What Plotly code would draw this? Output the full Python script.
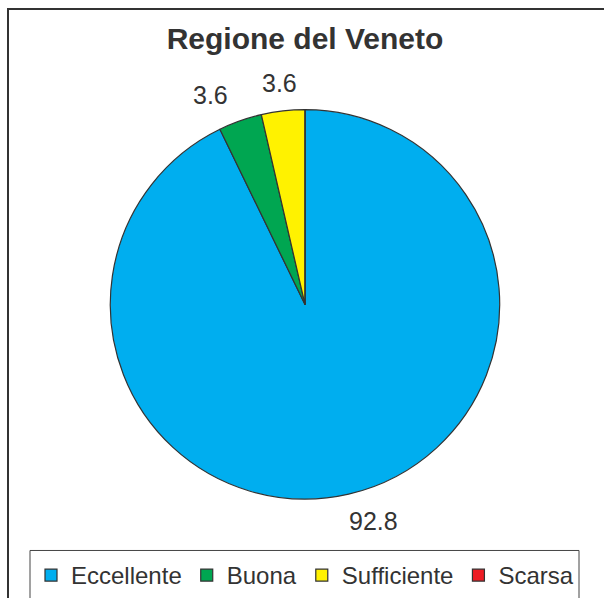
import math
import plotly.graph_objects as go

categories = ["Eccellente", "Buona", "Sufficiente", "Scarsa"]
values = [92.8, 3.6, 3.6, 0.0]
colors = ["#00AEEF", "#00A651", "#FFF200", "#ED1C24"]

W, H = 604, 598
cx, cy, r = 305, 308, 197
FONT = "Liberation Sans, Arial, sans-serif"
TXT = "#333333"

fig = go.Figure(go.Pie(
    labels=categories,
    values=values,
    sort=False,
    direction="clockwise",
    rotation=0,
    marker=dict(colors=colors, line=dict(color="#333333", width=1.2)),
    textinfo="none",
    hoverinfo="label+value",
    showlegend=True,
    domain=dict(x=[(cx - r) / W, (cx + r) / W],
                y=[1 - (cy + r) / H, 1 - (cy - r) / H]),
))

# outside value labels placed at each slice's mid-angle
annotations = []
total = sum(values)
cum = 0.0
R_lab = 225
for v in values:
    mid = (cum + v / 2) / total * 2 * math.pi
    cum += v
    if v == 0:
        continue
    s, c = math.sin(mid), math.cos(mid)
    x = cx + R_lab * s
    y = cy - R_lab * c
    anchor = "left" if s > 0.1 else ("right" if s < -0.2 else "center")
    annotations.append(dict(x=x / W, y=1 - y / H, xref="paper", yref="paper",
                            text=f"{v:.1f}", showarrow=False, xanchor=anchor,
                            yanchor="middle", xshift=-8 if anchor == "left" else 0,
                            font=dict(family=FONT, size=25, color=TXT)))

fig.update_layout(
    width=W, height=H,
    margin=dict(l=0, r=0, t=0, b=0),
    paper_bgcolor="white",
    plot_bgcolor="white",
    title=dict(text="<b>Regione del Veneto</b>", x=305 / W, xanchor="center",
               y=1 - 38 / H, yanchor="middle",
               font=dict(family=FONT, size=30, color=TXT)),
    legend=dict(orientation="h", x=305 / W, xanchor="center", y=1 - 560 / H, yanchor="top",
                borderwidth=0, bgcolor="rgba(0,0,0,0)",
                font=dict(family=FONT, size=24, color=TXT),
                traceorder="normal"),
    annotations=annotations,
    shapes=[
        dict(type="rect", xref="paper", yref="paper",
             x0=8 / W, x1=1.02, y0=-0.02, y1=1 - 9 / H,
             line=dict(color="#333333", width=2)),
        dict(type="rect", xref="paper", yref="paper",
             x0=30 / W, x1=579 / W, y0=-0.05, y1=1 - 557 / H,
             line=dict(color="#444444", width=1)),
    ],
)

fig.write_html("out.html", post_script="document.body.style.margin='0';",
               config={"displayModeBar": False})
